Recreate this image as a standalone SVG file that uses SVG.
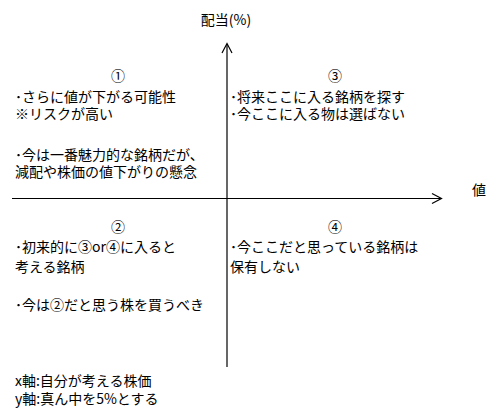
<svg xmlns="http://www.w3.org/2000/svg" width="501" height="418" viewBox="0 0 501 418">
<style>
text{font-family:"MS PGothic","Noto Sans CJK JP","Noto Sans CJK SC",sans-serif;font-size:14px;fill:#000}
.c{text-anchor:middle}
.ax{stroke:#000;stroke-width:1.2;fill:none}
</style>
<rect width="501" height="418" fill="#fff"/>
<g id="connectors">
<line class="ax" x1="227" y1="367" x2="227" y2="44"/>
<polyline class="ax" points="222,53 227,43.5 232,53"/>
<line class="ax" x1="12" y1="198.5" x2="441" y2="198.5"/>
<polyline class="ax" points="432,193.5 441.5,198.5 432,203.5"/>
</g>
<g id="axis-y-label"><text class="c" x="226" y="25">配当(%)</text></g>
<g id="axis-x-label"><text x="472" y="195">値</text></g>
<g id="q1">
<text class="c" x="118" y="81">①</text>
<text x="15" y="102">･さらに値が下がる可能性</text>
<text x="15" y="119">※リスクが高い</text>
<text x="15" y="160">･今は一番魅力的な銘柄だが、</text>
<text x="15" y="177">減配や株価の値下がりの懸念</text>
</g>
<g id="q3">
<text class="c" x="335" y="81">③</text>
<text x="230" y="102">･将来ここに入る銘柄を探す</text>
<text x="230" y="119">･今ここに入る物は選ばない</text>
</g>
<g id="q2">
<text class="c" x="118" y="232">②</text>
<text x="15" y="252">･初来的に③or④に入ると</text>
<text x="15" y="272">考える銘柄</text>
<text x="15" y="310">･今は②だと思う株を買うべき</text>
</g>
<g id="q4">
<text class="c" x="335" y="232">④</text>
<text x="230" y="252">･今ここだと思っている銘柄は</text>
<text x="230" y="272">保有しない</text>
</g>
<g id="notes">
<text x="15" y="386">x軸:自分が考える株価</text>
<text x="15" y="404">y軸:真ん中を5%とする</text>
</g>
</svg>
